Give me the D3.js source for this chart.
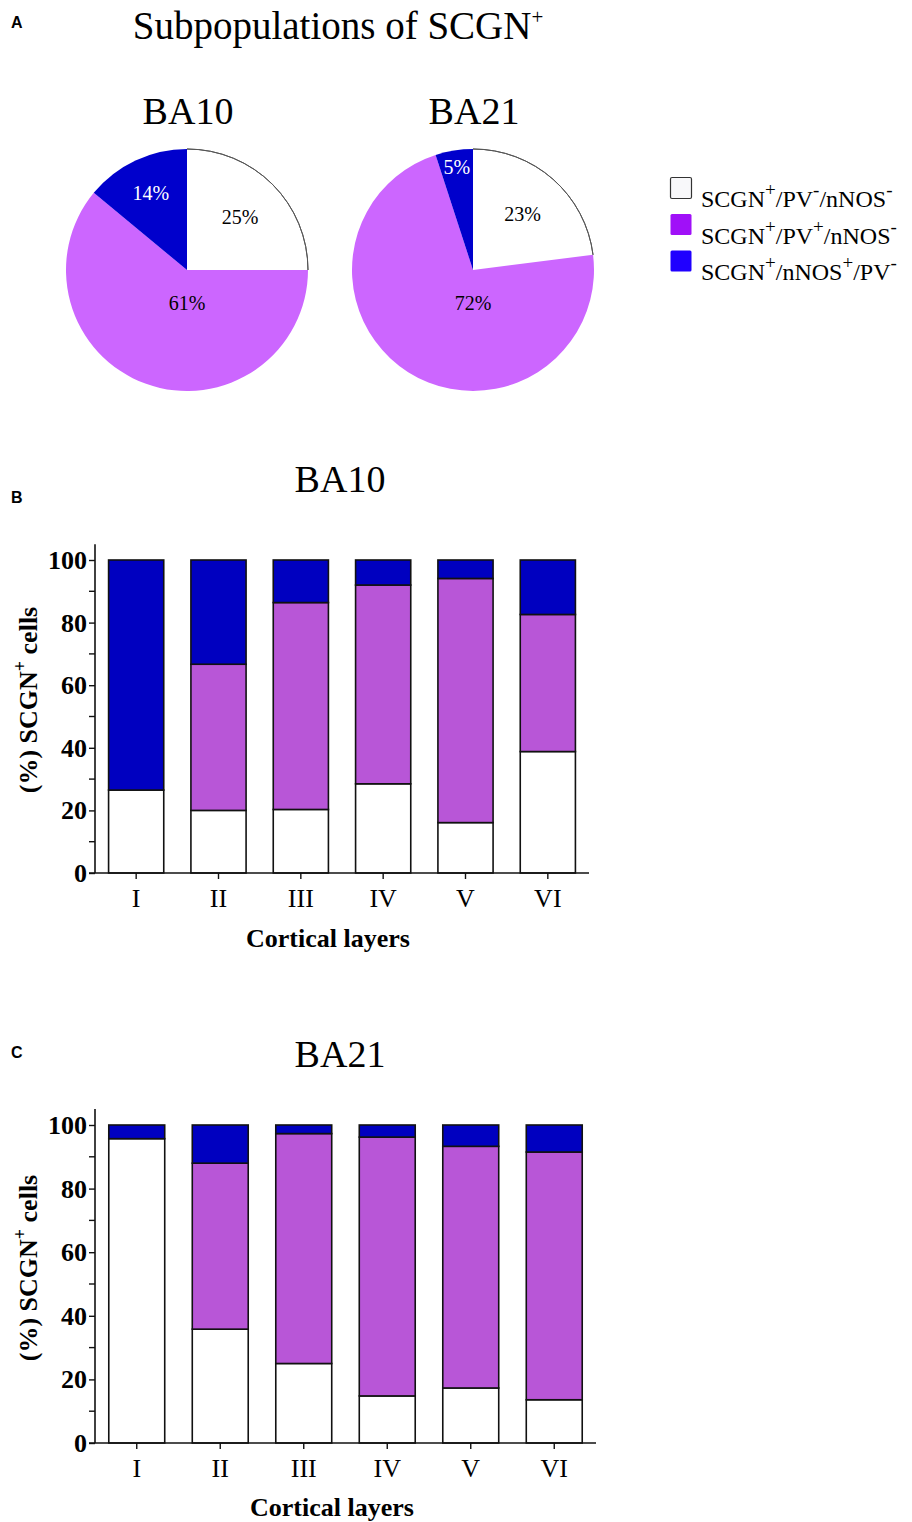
<!DOCTYPE html>
<html><head><meta charset="utf-8">
<script src="https://cdn.jsdelivr.net/npm/d3@7"></script>
<style>body{margin:0;background:#fff}svg{display:block}text{font-family:"Liberation Serif","Times New Roman",serif}</style>
</head><body>
<script>
// ---------- data ----------
const legendLabels = [
  [["SCGN",""],["+","sup"],["/PV",""],["-","sup"],["/nNOS",""],["-","sup"]],
  [["SCGN",""],["+","sup"],["/PV",""],["+","sup"],["/nNOS",""],["-","sup"]],
  [["SCGN",""],["+","sup"],["/nNOS",""],["+","sup"],["/PV",""],["-","sup"]]
];
const pieTitles = ["BA10", "BA21"];
const pieBA10 = [25, 61, 14];
const pieBA21 = [23, 72, 5];
const layers = ["I", "II", "III", "IV", "V", "VI"];
// stacked: [white (PV-/nNOS-), purple (PV+), blue (nNOS+)]
const ba10White  = [26.5, 20.0, 20.3, 28.5, 16.1, 38.8];
const ba10Purple = [0.0, 46.7, 66.1, 63.5, 78.0, 43.8];
const ba10Blue   = [73.5, 33.3, 13.6, 8.0, 5.9, 17.4];
const ba21White  = [95.7, 35.8, 25.0, 14.8, 17.3, 13.6];
const ba21Purple = [0.0, 52.2, 72.3, 81.4, 76.0, 77.9];
const ba21Blue   = [4.3, 12.0, 2.7, 3.8, 6.7, 8.5];
const yTicks = [0, 20, 40, 60, 80, 100];
const yMinor = [10, 30, 50, 70, 90];

const pieColors = ["#ffffff", "#cc66ff", "#0000cc"];
const barColors = ["#ffffff", "#b856d7", "#0000c0"];
const legendColors = ["#f8f8fa", "#a010f8", "#2000ff"];

const W = 912, H = 1522;
const svg = d3.select("body").append("svg").attr("width", W).attr("height", H);

// panel letters
[["A", 28], ["B", 503], ["C", 1058]].forEach(([t, y]) => {
  svg.append("text").attr("x", 11).attr("y", y).text(t)
    .style("font-family", "'Liberation Sans',Arial,sans-serif").style("font-weight", "bold").style("font-size", "16px");
});

// ---------- Panel A ----------
const title = svg.append("text").attr("x", 338).attr("y", 39).attr("text-anchor", "middle").style("font-size", "39px");
title.append("tspan").text("Subpopulations of SCGN");
title.append("tspan").text("+").attr("dy", -15).style("font-size", "21px");

const pieR = 121;
const pies = [{c: [187, 270], data: pieBA10, t: pieTitles[0]}, {c: [473, 270], data: pieBA21, t: pieTitles[1]}];
const pieGen = d3.pie().sort(null).value(d => d);
const arcGen = d3.arc().innerRadius(0).outerRadius(pieR);
pies.forEach(p => {
  svg.append("text").attr("x", p.c[0]+1).attr("y", 124).attr("text-anchor", "middle").style("font-size", "38px").text(p.t);
  const g = svg.append("g").attr("transform", `translate(${p.c[0]},${p.c[1]})`);
  const arcs = pieGen(p.data);
  g.selectAll("path.s").data(arcs).join("path").attr("class", "s")
    .attr("d", arcGen).attr("fill", (d, i) => pieColors[i]);
  const w = arcs[0];
  g.append("path").attr("d", d3.arc().innerRadius(pieR).outerRadius(pieR)({startAngle: w.startAngle, endAngle: w.endAngle}))
    .attr("fill", "none").attr("stroke", "#555").attr("stroke-width", 1);
  g.selectAll("text").data(arcs).join("text")
    .attr("transform", (d, i) => {
      if (d.data > 50) return `translate(0,${pieR * 0.27})`;
      const f = d.data < 10 ? 0.86 : (i === 0 ? 0.62 : 0.7);
      const a = (d.startAngle + d.endAngle) / 2;
      return `translate(${Math.sin(a) * pieR * f},${-Math.cos(a) * pieR * f})`;
    })
    .attr("text-anchor", "middle").attr("dominant-baseline", "central")
    .style("font-size", "20px").attr("fill", (d, i) => i === 2 ? "#fff" : "#000")
    .text(d => d.data + "%");
});

// legend
const lg = svg.append("g");
legendLabels.forEach((parts, i) => {
  const y = 177 + i * 36.5;
  lg.append("rect").attr("x", 670.5).attr("y", y + 0.5).attr("width", 21).attr("height", 21).attr("rx", 1.5)
    .attr("fill", legendColors[i]).attr("stroke", i === 0 ? "#333" : "none").attr("stroke-width", 1.2);
  const t = lg.append("text").attr("x", 701).attr("y", y + 19).style("font-size", "24px");
  parts.forEach(([s, k]) => {
    if (k === "sup") t.append("tspan").text(s).attr("dy", -11).style("font-size", "19px");
    else t.append("tspan").text(s).attr("dy", t.selectAll("tspan").size() ? 11 : 0);
  });
});

// ---------- Bar charts ----------
function barChart(opt) {
  const {top, zeroY, x0, x1, title, titleY, white, purple, blue, xTitleY, xTitleX, yLabelY} = opt;
  const y = d3.scaleLinear().domain([0, 100]).range([zeroY, top]);
  const x = d3.scaleBand().domain(layers).range([x0, x1]).paddingInner(0.33).paddingOuter(0.165);
  const g = svg.append("g");
  svg.append("text").attr("x", 340).attr("y", titleY).attr("text-anchor", "middle").style("font-size", "38px").text(title);
  const series = d3.stack().keys([0, 1, 2])(layers.map((l, i) => ({0: white[i], 1: purple[i], 2: blue[i], l})));
  series.forEach((s, k) => {
    g.selectAll(null).data(s).join("rect")
      .attr("x", d => x(d.data.l)).attr("width", x.bandwidth())
      .attr("y", d => y(d[1])).attr("height", d => y(d[0]) - y(d[1]))
      .attr("fill", barColors[k]).attr("stroke", "#111").attr("stroke-width", 1.6);
  });
  // y axis
  const ya = svg.append("g").attr("transform", `translate(${x0},0)`)
    .call(d3.axisLeft(y).tickValues(yTicks).tickSize(6).tickPadding(2).tickSizeOuter(0));
  ya.select(".domain").remove();
  ya.append("line").attr("x1", 0).attr("x2", 0).attr("y1", zeroY).attr("y2", y(105)).attr("stroke", "#111").attr("stroke-width", 1.6);
  ya.selectAll(".tick line").attr("stroke", "#111").attr("stroke-width", 1.4);
  ya.selectAll(".tick text").style("font-family", "'Liberation Serif',serif").style("font-size", "26px")
    .style("font-weight", "bold").attr("fill", "#000").attr("dy", "0.33em");
  ya.selectAll(null).data(yMinor).join("line").attr("x1", -6).attr("x2", 0).attr("y1", d => y(d)).attr("y2", d => y(d))
    .attr("stroke", "#111").attr("stroke-width", 1.4);
  // x axis
  const xa = svg.append("g").attr("transform", `translate(0,${zeroY})`)
    .call(d3.axisBottom(x).tickSize(6).tickPadding(10).tickSizeOuter(0));
  xa.select(".domain").attr("d", `M${x0 - 6},0H${x1}`).attr("stroke", "#111").attr("stroke-width", 1.6);
  xa.selectAll(".tick line").attr("stroke", "#111").attr("stroke-width", 1.4);
  xa.selectAll(".tick text").style("font-family", "'Liberation Serif',serif").style("font-size", "26px").attr("fill", "#000");
  svg.append("text").attr("x", xTitleX).attr("y", xTitleY).attr("text-anchor", "middle")
    .style("font-size", "26px").style("font-weight", "bold").text("Cortical layers");
  const yl = svg.append("text").attr("transform", `translate(37,${yLabelY}) rotate(-90)`)
    .attr("text-anchor", "middle").style("font-size", "26px").style("font-weight", "bold");
  yl.append("tspan").text("(%) SCGN");
  yl.append("tspan").text("+").attr("dy", -11).style("font-size", "18px");
  yl.append("tspan").text(" cells").attr("dy", 11);
}

barChart({top: 560, zeroY: 873, x0: 95, x1: 589, title: "BA10", titleY: 492,
  white: ba10White, purple: ba10Purple, blue: ba10Blue, xTitleY: 947, xTitleX: 328, yLabelY: 700});
barChart({top: 1125, zeroY: 1443, x0: 95, x1: 596, title: "BA21", titleY: 1067,
  white: ba21White, purple: ba21Purple, blue: ba21Blue, xTitleY: 1516, xTitleX: 332, yLabelY: 1268});
</script>
</body></html>
